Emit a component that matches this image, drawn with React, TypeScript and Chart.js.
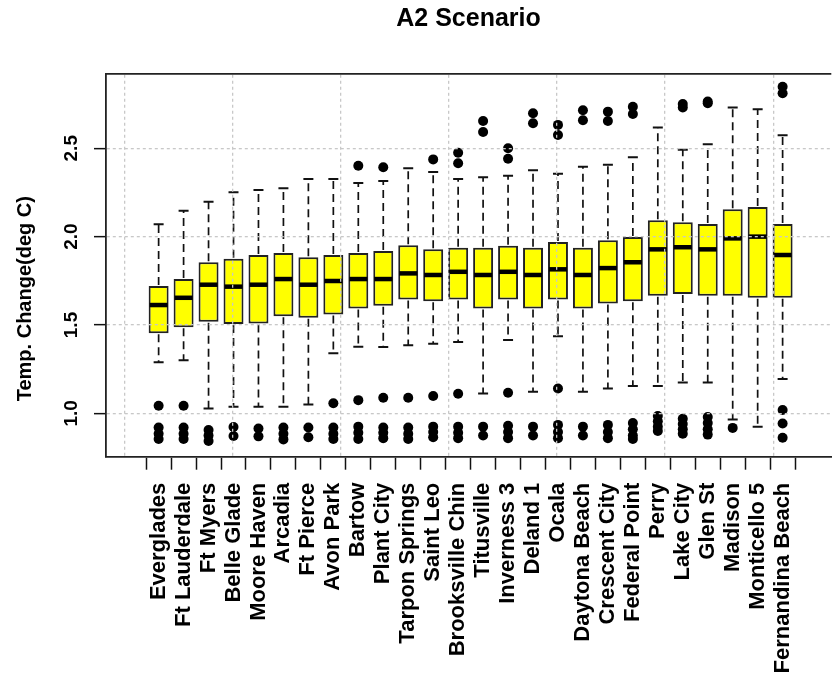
import React, { useEffect, useRef } from 'react';
import { Chart, registerables } from 'chart.js';

Chart.register(...registerables);

const stations = [
  'Everglades', 'Ft Lauderdale', 'Ft Myers', 'Belle Glade', 'Moore Haven', 'Arcadia',
  'Ft Pierce', 'Avon Park', 'Bartow', 'Plant City', 'Tarpon Springs', 'Saint Leo',
  'Brooksville Chin', 'Titusville', 'Inverness 3', 'Deland 1', 'Ocala', 'Daytona Beach',
  'Crescent City', 'Federal Point', 'Perry', 'Lake City', 'Glen St', 'Madison',
  'Monticello 5', 'Fernandina Beach',
];

const whiskerLow = [1.29, 1.30, 1.028, 1.038, 1.038, 1.038, 1.051, 1.34, 1.377, 1.375, 1.385, 1.394, 1.404, 1.113, 1.415, 1.122, 1.437, 1.122, 1.141, 1.155, 1.155, 1.175, 1.175, 0.966, 0.925, 1.194];
const boxLow = [1.453, 1.487, 1.518, 1.505, 1.509, 1.549, 1.541, 1.56, 1.594, 1.609, 1.645, 1.634, 1.645, 1.594, 1.645, 1.594, 1.645, 1.594, 1.622, 1.634, 1.666, 1.675, 1.666, 1.666, 1.654, 1.654];
const medians = [1.613, 1.654, 1.728, 1.717, 1.728, 1.76, 1.728, 1.749, 1.76, 1.76, 1.792, 1.783, 1.801, 1.783, 1.801, 1.783, 1.815, 1.783, 1.822, 1.855, 1.928, 1.94, 1.928, 1.99, 2.0, 1.896];
const boxHigh = [1.72, 1.76, 1.855, 1.875, 1.896, 1.907, 1.883, 1.896, 1.907, 1.918, 1.951, 1.928, 1.937, 1.937, 1.949, 1.937, 1.969, 1.937, 1.979, 1.998, 2.092, 2.081, 2.071, 2.155, 2.168, 2.071];
const whiskerHigh = [2.07, 2.147, 2.198, 2.251, 2.264, 2.273, 2.326, 2.326, 2.303, 2.315, 2.387, 2.366, 2.326, 2.336, 2.345, 2.375, 2.356, 2.396, 2.407, 2.449, 2.617, 2.492, 2.522, 2.73, 2.721, 2.573];
const outliers: number[][] = [
  [1.043, 0.92, 0.885, 0.855],
  [1.043, 0.92, 0.885, 0.855],
  [0.906, 0.875, 0.844],
  [0.923, 0.872],
  [0.915, 0.87],
  [0.92, 0.885, 0.853],
  [0.92, 0.865],
  [1.057, 0.92, 0.885, 0.855],
  [2.401, 1.075, 0.925, 0.89, 0.855],
  [2.392, 1.088, 0.92, 0.89, 0.86],
  [1.088, 0.92, 0.885, 0.855],
  [2.437, 1.098, 0.925, 0.895, 0.865],
  [2.475, 2.415, 1.111, 0.925, 0.89, 0.86],
  [2.654, 2.592, 0.925, 0.875],
  [2.5, 2.441, 1.117, 0.93, 0.895, 0.86],
  [2.698, 2.641, 0.925, 0.875],
  [2.632, 2.575, 1.141, 0.935, 0.895, 0.86],
  [2.715, 2.658, 0.925, 0.875],
  [2.707, 2.654, 0.935, 0.895, 0.86],
  [2.735, 2.694, 0.945, 0.91, 0.875, 0.855],
  [0.985, 0.955, 0.925, 0.9],
  [2.75, 2.73, 0.97, 0.94, 0.91, 0.885],
  [2.764, 2.755, 0.98, 0.945, 0.91, 0.88],
  [0.918],
  [],
  [2.848, 2.811, 1.019, 0.943, 0.862],
];
const yTicks = [1.0, 1.5, 2.0, 2.5];
const gridX = [0, 5, 10, 15, 20, 25];

const X_MIN = -0.55;
const X_MAX = 27.38;
const Y_MIN = 0.755;
const Y_MAX = 2.92;

const FONT = "'Liberation Sans', Arial, Helvetica, sans-serif";

const whiskerPlugin = {
  id: 'whiskers',
  afterDatasetsDraw(chart: any) {
    const { ctx } = chart;
    const x = chart.scales.x;
    const y = chart.scales.y;
    ctx.save();
    stations.forEach((_, i) => {
      const pos = i + 1;
      const cx = x.getPixelForValue(pos);
      const capL = x.getPixelForValue(pos - 0.2);
      const capR = x.getPixelForValue(pos + 0.2);
      const boxL = x.getPixelForValue(pos - 0.4);
      const boxR = x.getPixelForValue(pos + 0.4);
      const yQ1 = y.getPixelForValue(boxLow[i]);
      const yQ3 = y.getPixelForValue(boxHigh[i]);
      const yLo = y.getPixelForValue(whiskerLow[i]);
      const yHi = y.getPixelForValue(whiskerHigh[i]);
      const yMed = y.getPixelForValue(medians[i]);
      ctx.strokeStyle = '#111';
      ctx.lineWidth = 1.7;
      ctx.setLineDash([8, 5]);
      ctx.beginPath();
      ctx.moveTo(cx, yQ3 - 1);
      ctx.lineTo(cx, yHi);
      ctx.moveTo(cx, yQ1 + 1);
      ctx.lineTo(cx, yLo);
      ctx.stroke();
      ctx.setLineDash([]);
      ctx.lineWidth = 2;
      ctx.beginPath();
      ctx.moveTo(capL, yHi);
      ctx.lineTo(capR, yHi);
      ctx.moveTo(capL, yLo);
      ctx.lineTo(capR, yLo);
      ctx.stroke();
      ctx.lineWidth = 4.5;
      ctx.strokeStyle = '#000';
      ctx.beginPath();
      ctx.moveTo(boxL + 1, yMed);
      ctx.lineTo(boxR - 1, yMed);
      ctx.stroke();
    });
    ctx.restore();
  },
};

export default function App() {
  const canvasRef = useRef<HTMLCanvasElement | null>(null);

  useEffect(() => {
    const canvas = canvasRef.current;
    if (!canvas) return;
    const boxData = stations.map((_, i) => ({ x: i + 1, y: [boxLow[i], boxHigh[i]] }));
    const outlierData = outliers.flatMap((vals, i) => vals.map((v) => ({ x: i + 1, y: v })));

    const chart = new Chart(canvas, {
      type: 'bar',
      data: {
        datasets: [
          {
            type: 'scatter',
            label: 'outliers',
            data: outlierData as any,
            pointStyle: 'circle',
            pointRadius: 5,
            pointHoverRadius: 5,
            backgroundColor: '#000',
            borderColor: '#000',
            borderWidth: 0,
          } as any,
          {
            type: 'bar',
            label: 'box',
            data: boxData as any,
            backgroundColor: '#FFFF00',
            borderColor: '#222',
            borderWidth: 2,
            borderSkipped: false,
            barPercentage: 0.8,
            categoryPercentage: 1.0,
          } as any,
        ],
      },
      options: {
        responsive: false,
        animation: false,
        devicePixelRatio: 1,
        layout: { padding: 0 },
        plugins: {
          legend: { display: false },
          tooltip: { enabled: false },
          title: {
            display: true,
            text: 'A2 Scenario',
            fullSize: false,
            color: '#000',
            font: { family: FONT, size: 25, weight: 'bold' },
            padding: { top: 4, bottom: 40 },
          },
        },
        scales: {
          x: {
            type: 'linear',
            position: 'bottom',
            min: X_MIN,
            max: X_MAX,
            afterBuildTicks: (s: any) => {
              s.ticks = stations.map((_, i) => ({ value: i + 1 }));
            },
            afterFit: (s: any) => {
              s.height = 234.3;
            },
            ticks: {
              autoSkip: false,
              minRotation: 90,
              maxRotation: 90,
              padding: 13,
              color: '#000',
              font: { family: FONT, size: 22, weight: 'bold' },
              callback: (_v: any, idx: number) => stations[idx] ?? '',
            },
            grid: {
              drawOnChartArea: false,
              drawTicks: true,
              tickLength: 13,
              tickColor: '#111',
              tickWidth: 1.5,
            },
            border: { display: true, color: '#222', width: 1.8 },
          },
          xTop: {
            type: 'linear',
            position: 'top',
            min: X_MIN,
            max: X_MAX,
            afterBuildTicks: (s: any) => {
              s.ticks = gridX.map((v) => ({ value: v }));
            },
            afterFit: (s: any) => {
              s.height = 0;
            },
            ticks: { display: false },
            grid: { drawTicks: false, color: '#c8c8c8', lineWidth: 1.3, z: 1 },
            border: { display: true, color: '#222', width: 1.8, dash: [3, 3], z: 2 },
          },
          y: {
            type: 'linear',
            position: 'left',
            min: Y_MIN,
            max: Y_MAX,
            afterBuildTicks: (s: any) => {
              s.ticks = yTicks.map((v) => ({ value: v }));
            },
            afterFit: (s: any) => {
              s.width = 106;
            },
            ticks: {
              minRotation: 90,
              maxRotation: 90,
              crossAlign: 'center',
              padding: 9,
              color: '#000',
              font: { family: FONT, size: 19, weight: 'bold' },
              callback: (v: any) => Number(v).toFixed(1),
            },
            grid: {
              color: '#c8c8c8',
              lineWidth: 1.3,
              z: 1,
              drawTicks: true,
              tickLength: 12,
              tickColor: '#111',
              tickWidth: 1.5,
            },
            border: { display: true, color: '#222', width: 1.8, dash: [3, 3], z: 2 },
            title: {
              display: true,
              text: 'Temp. Change(deg C)' + ' '.repeat(12),
              color: '#000',
              font: { family: FONT, size: 20, weight: 'bold' },
              padding: { top: 13, bottom: 0 },
            },
          },
        },
      } as any,
      plugins: [whiskerPlugin],
    });

    return () => {
      chart.destroy();
    };
  }, []);

  return (
    <div style={{ position: 'fixed', left: 0, top: 0, width: 836, height: 691, background: '#fff', overflow: 'hidden' }}>
      <canvas ref={canvasRef} width={836} height={691} style={{ display: 'block' }} />
    </div>
  );
}
